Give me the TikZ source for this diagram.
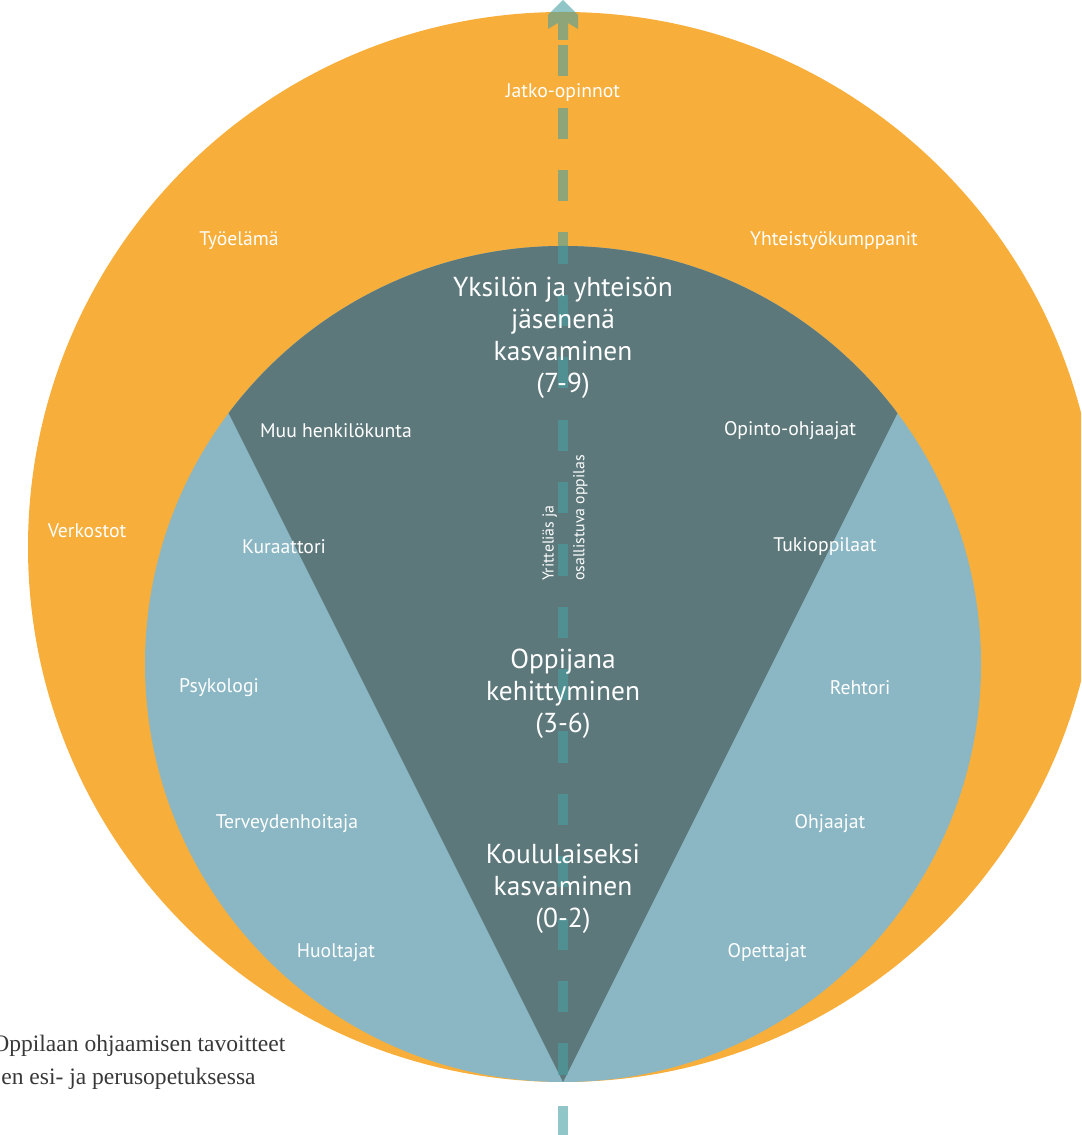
\documentclass[tikz,border=0pt]{standalone}
\usepackage{fontspec}
\setmainfont{PT Sans}
\newfontfamily\capfont{Liberation Serif}
\definecolor{ring}{HTML}{F7AE3A}
\definecolor{disc}{HTML}{8BB7C4}
\definecolor{wedge}{HTML}{5D787B}
\definecolor{trailcol}{HTML}{48A0A3}
\definecolor{capgray}{HTML}{383838}
\begin{document}
\begin{tikzpicture}[x=0.02cm,y=0.02cm]
\tikzstyle{lbl} = [text=white, font=\fontsize{11.2}{13}\selectfont]
\tikzstyle{stage} = [text=white, align=center, font=\fontsize{15.6}{18.2}\selectfont]
\tikzstyle{trail} = [draw=trailcol, draw opacity=0.6, line width=0.2cm, dash pattern=on 0.624cm off 0.624cm]
\tikzstyle{captext} = [text=capgray, anchor=base west, inner sep=0pt, font=\capfont\fontsize{13.4}{16}\selectfont]
\useasboundingbox (0,0) rectangle (1081,1135);
\clip (0,0) rectangle (1081,1135);
\fill[ring] (563,588) circle (535);
\fill[disc] (563,471) circle (418);
\begin{scope}
\clip (563,471) circle (418);
\fill[wedge] (563,53) -- (63,1053) -- (1063,1053) -- cycle;
\end{scope}
\coordinate (start) at (563,-2);
\coordinate (end) at (563,1091);
\draw[trail] (start) -- (end);
\fill[trailcol, opacity=0.6] (563,1135) -- (578,1120) -- (578,1106) -- (568,1112) -- (568,1095) -- (558,1095) -- (558,1112) -- (548,1106) -- (548,1120) -- cycle;
\node[lbl] (jatko) at (563,1042) {Jatko-opinnot};
\node[lbl] (tyo) at (239,894) {Työelämä};
\node[lbl] (yhteistyo) at (834,894) {Yhteistyökumppanit};
\node[lbl] (verkostot) at (87,604) {Verkostot};
\node[lbl] (muu) at (336,704) {Muu henkilökunta};
\node[lbl] (opo) at (790,704) {Opinto-ohjaajat};
\node[lbl] (kuraattori) at (284,588) {Kuraattori};
\node[lbl] (tukioppilaat) at (825,588) {Tukioppilaat};
\node[lbl] (psykologi) at (219,447) {Psykologi};
\node[lbl] (rehtori) at (860,447) {Rehtori};
\node[lbl] (terveys) at (287,311) {Terveydenhoitaja};
\node[lbl] (ohjaajat) at (830,311) {Ohjaajat};
\node[lbl] (huoltajat) at (336,182) {Huoltajat};
\node[lbl] (opettajat) at (767,182) {Opettajat};
\node[stage] (yksilo) at (563,797) {Yksilön ja yhteisön\\jäsenenä\\kasvaminen\\(7-9)};
\node[stage] (oppija) at (563,441) {Oppijana\\kehittyminen\\(3-6)};
\node[stage] (koulu) at (563,246) {Koululaiseksi\\kasvaminen\\(0-2)};
\node[lbl, rotate=90, align=left, font=\fontsize{9}{17.5}\selectfont] (yritt) at (565,617) {Yritteliäs ja\\osallistuva oppilas};
\node[captext] (capa) at (-8,83) {Oppilaan ohjaamisen tavoitteet};
\node[captext] (capb) at (1,50) {en esi- ja perusopetuksessa};
\end{tikzpicture}
\end{document}
